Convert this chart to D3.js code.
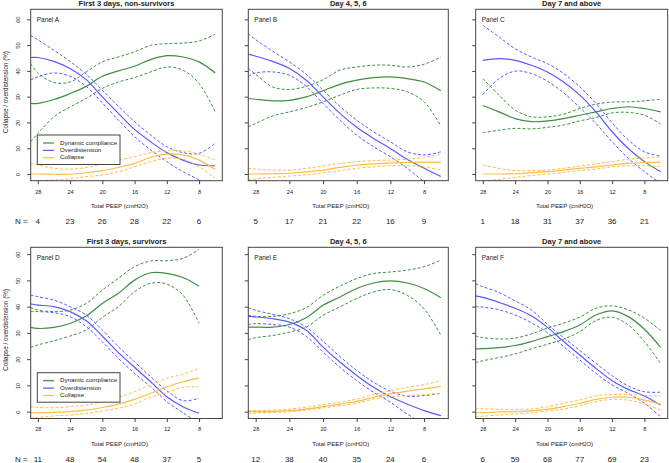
<!DOCTYPE html>
<html><head><meta charset="utf-8">
<script src="https://cdn.jsdelivr.net/npm/d3@7"></script>
<style>body{margin:0;background:#fff}svg{display:block}text{font-family:"Liberation Sans",Arial,sans-serif;fill:#222}</style>
</head><body><svg id="c" width="669" height="463"></svg>
<script>
// ---------- data ----------
const xTicks = [28, 24, 20, 16, 12, 8];
const yTicks = [0, 10, 20, 30, 40, 50, 60];
const titles = ["First 3 days, non-survivors", "Day 4, 5, 6", "Day 7 and above", "First 3 days, survivors", "Day 4, 5, 6", "Day 7 and above"];
const panelLabels = ["Panel A", "Panel B", "Panel C", "Panel D", "Panel E", "Panel F"];
const seriesNames = ["Dynamic compliance", "Overdistension", "Collapse"];

const peepFull = [28.9, 28, 26, 24, 22, 20, 18, 16, 14, 12, 10, 8, 6];
const peepC = [28, 26, 24, 22, 20, 18, 16, 14, 12, 10, 8, 6];
const peepD = [28.9, 28, 26, 24, 22, 20, 18, 16, 14, 12, 10, 8];

const nA = [4, 23, 26, 28, 22, 6];
const nB = [5, 17, 21, 22, 16, 9];
const nC = [1, 18, 31, 37, 36, 21];
const nD = [11, 48, 54, 48, 37, 5];
const nE = [12, 38, 40, 35, 24, 6];
const nF = [6, 59, 68, 77, 69, 23];

// Panel A
const aComp   = [27.4, 27.4, 28.9, 31.2, 34.0, 37.9, 40.0, 41.8, 44.4, 45.9, 45.4, 43.5, 39.2];
const aCompHi = [42.8, 39.2, 35.5, 35.7, 39.6, 43.5, 45.4, 47.4, 49.9, 50.6, 50.8, 51.6, 54.2];
const aCompLo = [12.5, 15.7, 22.2, 26.0, 29.3, 33.2, 35.7, 37.4, 39.6, 41.5, 40.3, 35.1, 24.1];
const aOver   = [45.2, 45.2, 43.7, 40.9, 36.6, 29.9, 23.5, 17.3, 12.5, 8.3, 5.4, 3.5, 3.2];
const aOverHi = [53.8, 52.1, 48.0, 43.7, 38.7, 32.5, 26.3, 20.3, 15.1, 10.6, 8.3, 8.0, 11.9];
const aOverLo = [36.4, 37.7, 39.2, 37.9, 34.0, 27.6, 20.9, 14.5, 9.3, 4.8, 0.9, -2.3, -6.0];
const aColl   = [0.0, 0.0, -0.1, -0.1, 0.5, 1.3, 2.6, 4.1, 6.5, 7.7, 7.4, 5.4, 1.8];
const aCollHi = [4.1, 3.5, 2.2, 1.9, 2.5, 3.9, 5.4, 6.7, 8.3, 9.0, 9.0, 7.7, 5.4];
const aCollLo = [-3.0, -2.6, -2.3, -1.8, -1.0, -0.4, 0.9, 2.8, 4.8, 6.1, 5.7, 2.8, -1.7];
// Panel B
const bComp   = [29.3, 29.0, 28.4, 28.6, 29.9, 32.3, 34.8, 36.4, 37.4, 37.7, 37.0, 35.7, 32.3];
const bCompHi = [40.9, 38.7, 33.8, 32.8, 34.0, 36.6, 40.3, 41.5, 42.2, 42.2, 41.5, 42.6, 45.4];
const bCompLo = [18.3, 19.6, 22.5, 24.1, 25.8, 28.0, 30.6, 32.8, 33.4, 33.2, 31.9, 28.0, 18.6];
const bOver   = [46.5, 45.7, 43.7, 40.9, 36.4, 29.9, 23.5, 18.1, 13.8, 9.9, 5.7, 2.2, -1.0];
const bOverHi = [54.5, 52.1, 47.7, 43.5, 38.7, 32.5, 26.3, 20.9, 16.4, 12.5, 8.6, 7.4, 8.6];
const bOverLo = [37.9, 39.2, 39.6, 38.3, 34.0, 27.4, 20.9, 15.1, 10.6, 6.7, 2.2, -3.0, -8.0];
const bColl   = [0.0, 0.0, 0.1, 0.3, 0.8, 1.5, 2.6, 3.4, 3.9, 4.3, 4.5, 4.6, 4.6];
const bCollHi = [2.2, 1.9, 1.5, 1.5, 2.2, 3.1, 4.1, 4.8, 5.2, 5.4, 5.7, 6.5, 7.7];
const bCollLo = [-2.3, -1.9, -1.3, -0.8, -0.3, 0.5, 1.3, 2.2, 2.8, 3.2, 3.2, 2.8, 1.5];
// Panel C
const cComp   = [26.6, 24.1, 21.5, 20.3, 20.6, 21.5, 22.8, 24.1, 25.4, 26.1, 25.4, 24.1];
const cCompHi = [37.0, 30.6, 24.8, 22.2, 22.2, 23.2, 25.4, 27.1, 27.9, 28.0, 28.4, 29.0];
const cCompLo = [16.0, 17.0, 17.7, 17.5, 18.1, 19.0, 20.6, 21.9, 23.7, 23.9, 22.8, 19.4];
const cOver   = [44.1, 44.8, 44.1, 42.2, 39.6, 35.7, 30.6, 24.1, 16.4, 9.9, 4.8, 0.9];
const cOverHi = [57.7, 53.2, 48.6, 45.4, 42.8, 39.0, 33.8, 27.4, 19.9, 13.2, 8.6, 7.0];
const cOverLo = [30.8, 37.0, 39.9, 39.0, 36.0, 31.5, 25.8, 19.6, 12.5, 6.1, 0.9, -3.6];
const cColl   = [0.0, 0.0, 0.1, 0.5, 0.9, 1.5, 2.2, 2.8, 3.5, 4.1, 4.4, 4.6];
const cCollHi = [3.5, 2.2, 1.3, 1.3, 1.5, 2.2, 3.1, 3.9, 4.8, 5.7, 6.2, 6.7];
const cCollLo = [-2.6, -2.1, -1.3, -0.6, 0.0, 0.6, 1.3, 1.9, 2.8, 3.2, 3.2, 2.8];
// Panel D
const dComp   = [32.1, 31.7, 32.1, 33.6, 36.4, 41.2, 45.1, 50.1, 52.9, 52.7, 51.1, 47.8];
const dCompHi = [39.7, 38.7, 38.1, 38.7, 41.2, 46.3, 50.8, 55.2, 57.4, 57.5, 58.4, 61.8];
const dCompLo = [24.5, 25.4, 27.0, 28.8, 31.1, 35.9, 40.0, 45.7, 48.9, 48.6, 44.4, 33.6];
const dOver   = [41.0, 40.6, 40.0, 38.1, 34.6, 28.8, 22.5, 16.9, 11.4, 5.7, 1.9, -0.6];
const dOverHi = [44.4, 43.8, 42.5, 40.0, 36.8, 31.1, 24.7, 19.0, 13.3, 8.0, 4.2, 5.1];
const dOverLo = [38.1, 38.1, 37.7, 36.2, 32.4, 26.6, 20.3, 14.6, 9.5, 3.8, -0.4, -4.4];
const dColl   = [-0.4, -0.4, -0.3, 0.0, 0.6, 1.6, 2.9, 4.7, 7.0, 9.5, 11.4, 12.9];
const dCollHi = [1.9, 1.6, 1.5, 1.9, 2.5, 3.8, 5.5, 7.6, 10.2, 12.7, 14.3, 16.5];
const dCollLo = [-2.5, -2.2, -1.6, -1.3, -0.6, 0.3, 1.3, 2.9, 5.5, 7.2, 9.3, 9.5];
// Panel E
const eComp   = [32.2, 32.2, 32.2, 33.2, 35.8, 40.5, 43.7, 46.9, 49.0, 49.8, 49.0, 46.9, 43.4];
const eCompHi = [36.7, 36.3, 36.3, 37.3, 39.6, 44.3, 47.8, 50.7, 52.6, 53.2, 53.9, 55.2, 57.7];
const eCompLo = [27.4, 28.2, 29.0, 30.3, 32.2, 36.7, 39.9, 43.1, 45.6, 46.5, 44.3, 39.2, 29.0];
const eOver   = [36.3, 36.1, 35.4, 34.1, 31.0, 24.6, 18.9, 13.8, 9.3, 5.7, 2.9, 0.4, -1.5];
const eOverHi = [39.6, 38.6, 37.1, 35.4, 32.2, 26.8, 21.0, 15.7, 11.2, 7.8, 5.9, 6.1, 7.0];
const eOverLo = [33.2, 33.5, 33.2, 32.2, 28.7, 22.7, 16.9, 11.8, 7.4, 3.6, -0.9, -5.0, -9.0];
const eColl   = [0.0, 0.0, 0.1, 0.4, 1.0, 1.9, 2.9, 3.9, 5.5, 6.8, 7.8, 8.7, 9.6];
const eCollHi = [0.4, 0.4, 0.6, 1.0, 1.7, 2.7, 3.6, 4.8, 6.5, 8.0, 9.3, 10.3, 11.8];
const eCollLo = [-0.6, -0.5, -0.3, 0.0, 0.6, 1.4, 2.3, 3.2, 4.8, 5.7, 6.1, 6.5, 7.0];
// Panel F
const fComp   = [23.9, 24.0, 24.4, 25.2, 26.7, 28.6, 30.5, 33.0, 36.8, 38.4, 36.2, 31.4, 24.5];
const fCompHi = [28.8, 28.2, 27.7, 28.0, 29.6, 31.8, 33.7, 36.0, 39.4, 40.3, 38.8, 35.6, 30.9];
const fCompLo = [18.7, 19.4, 20.6, 22.0, 23.9, 25.7, 27.6, 30.5, 34.7, 36.0, 33.0, 26.7, 18.4];
const fOver   = [44.1, 43.5, 41.6, 39.4, 36.5, 32.1, 26.7, 21.6, 16.5, 11.8, 8.5, 6.0, 2.5];
const fOverHi = [48.7, 47.6, 45.4, 42.2, 38.8, 33.3, 28.2, 23.3, 18.4, 13.7, 9.8, 7.6, 7.4];
const fOverLo = [40.0, 39.8, 38.8, 36.8, 33.9, 30.1, 24.8, 19.7, 14.6, 10.2, 7.0, 3.2, -1.9];
const fColl   = [-0.4, -0.4, -0.1, 0.0, 0.3, 0.9, 1.9, 3.2, 4.7, 5.5, 5.5, 4.4, 2.9];
const fCollHi = [1.3, 1.1, 0.9, 0.9, 1.0, 1.9, 3.2, 4.4, 6.0, 6.5, 6.5, 6.2, 6.0];
const fCollLo = [-1.9, -1.7, -1.3, -0.9, -0.4, 0.3, 1.0, 2.3, 3.8, 4.7, 4.4, 2.9, 0.6];

// ---------- assembly ----------
const panels = [
  {x: peepFull, n: nA, s: [[aComp, aCompLo, aCompHi], [aOver, aOverLo, aOverHi], [aColl, aCollLo, aCollHi]]},
  {x: peepFull, n: nB, s: [[bComp, bCompLo, bCompHi], [bOver, bOverLo, bOverHi], [bColl, bCollLo, bCollHi]]},
  {x: peepC,    n: nC, s: [[cComp, cCompLo, cCompHi], [cOver, cOverLo, cOverHi], [cColl, cCollLo, cCollHi]]},
  {x: peepD,    n: nD, s: [[dComp, dCompLo, dCompHi], [dOver, dOverLo, dOverHi], [dColl, dCollLo, dCollHi]]},
  {x: peepFull, n: nE, s: [[eComp, eCompLo, eCompHi], [eOver, eOverLo, eOverHi], [eColl, eCollLo, eCollHi]]},
  {x: peepFull, n: nF, s: [[fComp, fCompLo, fCompHi], [fOver, fOverLo, fOverHi], [fColl, fCollLo, fCollHi]]}
];
const colors = ["#3f8f3f", "#5a5aff", "#ffbd45"];
const cols = [[30.7, 222.3], [248.3, 448.3], [475.7, 667.7]];
const rows = [{top: 9.3, bottom: 180.7, dom: [-2.6, 63.9]}, {top: 247.3, bottom: 418.5, dom: [-2.6, 62.6]}];

const svg = d3.select("#c");
const defs = svg.append("defs");

panels.forEach((p, i) => {
  const col = cols[i % 3], row = rows[Math.floor(i / 3)];
  const x = d3.scaleLinear().domain([28.88, 5.12]).range(col);
  const y = d3.scaleLinear().domain(row.dom).range([row.bottom, row.top]);
  const g = svg.append("g");
  const cid = "clip" + i;
  defs.append("clipPath").attr("id", cid).append("rect")
    .attr("x", col[0]).attr("y", row.top).attr("width", col[1] - col[0]).attr("height", row.bottom - row.top);

  // lines
  const lg = g.append("g").attr("clip-path", `url(#${cid})`);
  const line = d3.line().curve(d3.curveCatmullRom.alpha(0.5));
  p.s.forEach((trip, k) => {
    trip.forEach((vals, j) => {
      const pts = vals.map((v, m) => [x(p.x[m]), y(v)]);
      lg.append("path").attr("d", line(pts)).attr("fill", "none")
        .attr("stroke", colors[k]).attr("stroke-width", j === 0 ? 1.2 : 1)
        .attr("stroke-dasharray", j === 0 ? null : "3,2");
    });
  });

  // box
  g.append("rect").attr("x", col[0]).attr("y", row.top).attr("width", col[1] - col[0])
    .attr("height", row.bottom - row.top).attr("fill", "none").attr("stroke", "#444").attr("stroke-width", 1);

  // x axis
  const xa = g.append("g").attr("transform", `translate(0,${row.bottom})`)
    .call(d3.axisBottom(x).tickValues(xTicks).tickSize(3.5).tickSizeOuter(0).tickPadding(4));
  xa.select(".domain").remove();
  xa.selectAll("line").attr("stroke", "#444");
  xa.selectAll("text").attr("font-size", "5.6px").attr("dy", null).attr("y", 11.5).attr("dominant-baseline", "middle");

  // y axis
  const ya = g.append("g").attr("transform", `translate(${col[0]},0)`)
    .call(d3.axisLeft(y).tickValues(yTicks).tickSize(3.5).tickSizeOuter(0));
  ya.select(".domain").remove();
  ya.selectAll("line").attr("stroke", "#444");
  if (i % 3 === 0) {
    ya.selectAll("text").attr("font-size", "5.6px").attr("x", null).attr("dy", null)
      .attr("text-anchor", "middle").attr("dominant-baseline", "middle")
      .attr("transform", "translate(-12.5,0) rotate(-90)");
    g.append("text").attr("transform", `translate(6,${(row.top + row.bottom) / 2 - 3}) rotate(-90)`)
      .attr("text-anchor", "middle").attr("dominant-baseline", "middle").attr("font-size", "6.3px")
      .text("Collapse / overdistension (%)");
  } else {
    ya.selectAll("text").remove();
  }

  // x axis title
  const xt = g.append("text").attr("x", (x(28) + x(8)) / 2 + 1).attr("y", row.bottom + 25)
    .attr("text-anchor", "middle").attr("dominant-baseline", "middle").attr("font-size", "6.2px");
  xt.append("tspan").text("Total PEEP (cmH");
  xt.append("tspan").attr("font-size", "4.5px").attr("dy", 1.5).text("2");
  xt.append("tspan").attr("dy", -1.5).text("O)");

  // N row
  const ny = row.bottom + 41;
  if (i % 3 === 0) g.append("text").attr("x", 15).attr("y", ny).attr("dominant-baseline", "middle")
    .attr("font-size", "8px").text("N =");
  p.n.forEach((v, m) => {
    g.append("text").attr("x", x(xTicks[m])).attr("y", ny).attr("text-anchor", "middle")
      .attr("dominant-baseline", "middle").attr("font-size", "8px").text(v);
  });

  // title
  g.append("text").attr("x", (col[0] + col[1]) / 2).attr("y", row.top - 5).attr("text-anchor", "middle")
    .attr("dominant-baseline", "middle").attr("font-size", "7.5px").attr("font-weight", "bold").text(titles[i]);
  // panel label
  g.append("text").attr("x", col[0] + 6).attr("y", row.top + 11).attr("dominant-baseline", "middle")
    .attr("font-size", "6.5px").text(panelLabels[i]);

  // legend
  if (i % 3 === 0) {
    const ly = i === 0 ? 135 : 372.7;
    const leg = g.append("g");
    leg.append("rect").attr("x", 37.3).attr("y", ly).attr("width", 82.7).attr("height", 29.5)
      .attr("fill", "#fff").attr("stroke", "#444").attr("stroke-width", 1);
    seriesNames.forEach((nm, k) => {
      const yy = ly + 8 + k * 7.4;
      leg.append("line").attr("x1", 43).attr("x2", 54).attr("y1", yy).attr("y2", yy)
        .attr("stroke", colors[k]).attr("stroke-width", 1.2);
      leg.append("text").attr("x", 60).attr("y", yy).attr("dominant-baseline", "middle")
        .attr("font-size", "6.2px").text(nm);
    });
  }
});
</script></body></html>
